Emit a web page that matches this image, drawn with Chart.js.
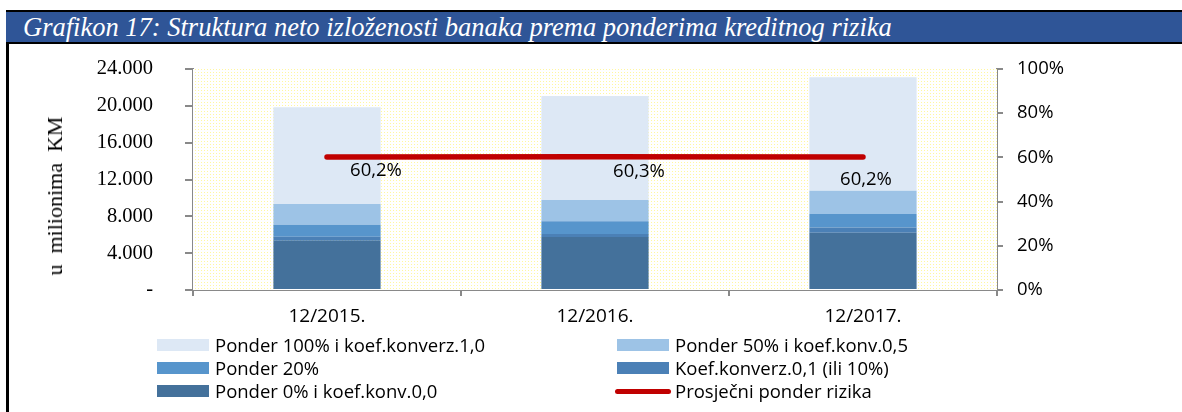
<!DOCTYPE html>
<html>
<head>
<meta charset="utf-8">
<script src="https://cdn.jsdelivr.net/npm/chart.js@4.4.1/dist/chart.umd.min.js"></script>
<style>
  html, body { margin: 0; padding: 0; background: #fff; }
  #wrap { position: relative; width: 1182px; height: 412px; overflow: hidden; }
  #chart { position: absolute; left: 0; top: 0; }
  #frameLeft { position: absolute; left: 6px; top: 10px; width: 3px; height: 402px; background: #000; }
  #titleBar {
    position: absolute; left: 6px; top: 10px; width: 1176px; height: 30px;
    background: #2f5597; border-top: 2px solid #000; border-bottom: 2px solid #000;
    color: #fff; font: italic 26.5px "Liberation Serif", "DejaVu Serif", serif;
    line-height: 30px; padding-left: 17px; box-sizing: content-box; white-space: nowrap;
  }
  #yTitle {
    position: absolute; left: 55px; top: 196px; white-space: pre;
    transform: translate(-50%, -50%) rotate(-90deg);
    font: 22px "Liberation Serif", serif; color: #000;
  }
  .leg { position: absolute; font: 18.5px "Open Sans", sans-serif; color: #000; white-space: nowrap; }
  .sw { position: absolute; width: 52px; height: 12px; }
  .swLine { position: absolute; width: 52px; height: 5px; border-radius: 3px; }
</style>
</head>
<body>
<div id="wrap">
  <canvas id="chart" width="1182" height="412"></canvas>
  <div id="frameLeft"></div>
  <div id="titleBar">Grafikon 17: Struktura neto izloženosti banaka prema ponderima kreditnog rizika</div>
  <div id="yTitle">u  milionima  KM</div>
  <div id="legend"></div>
</div>
<script>
// categories
const periods = ['12/2015.', '12/2016.', '12/2017.'];

// stacked exposure, millions KM (bottom to top)
const ponder0 = [5350, 5750, 6220];
const koef01 = [440, 330, 580];
const ponder20 = [1300, 1380, 1450];
const ponder50 = [2250, 2310, 2530];
const ponder100 = [10500, 11310, 12320];

// average risk weight, %
const avgWeight = [60.2, 60.3, 60.2];
const avgWeightText = ['60,2%', '60,3%', '60,2%'];

// where Excel put the line labels, relative to the point
const labelShift = [[49, 14], [44, 15], [3, 23]];

const gray = '#898989';
const sansFont = '"Open Sans", sans-serif';

// pale yellow dotted plot background
function dotPattern() {
    const c = document.createElement('canvas');
    c.width = 3; c.height = 3;
    const g = c.getContext('2d');
    g.fillStyle = '#ffffff';
    g.fillRect(0, 0, 3, 3);
    g.fillStyle = '#fff7a0';
    g.fillRect(0, 0, 1, 1);
    return g.createPattern(c, 'repeat');
}

const plotBg = {
    id: 'plotBg',
    beforeDatasetsDraw(chart) {
        const a = chart.chartArea, ctx = chart.ctx;
        ctx.save();
        ctx.fillStyle = dotPattern();
        ctx.fillRect(a.left, a.top, a.right - a.left, a.bottom - a.top);
        ctx.restore();
    }
};

const lineLabels = {
    id: 'lineLabels',
    afterDatasetsDraw(chart) {
        const meta = chart.getDatasetMeta(5);
        const ctx = chart.ctx;
        ctx.save();
        ctx.font = '18.5px ' + sansFont;
        ctx.fillStyle = '#000';
        ctx.textAlign = 'center';
        ctx.textBaseline = 'middle';
        meta.data.forEach((pt, i) => {
            ctx.fillText(avgWeightText[i], pt.x + labelShift[i][0], pt.y + labelShift[i][1]);
        });
        ctx.restore();
    }
};

const datasets = [
    { label: 'Ponder 0% i koef.konv.0,0', data: ponder0, backgroundColor: '#44719b' },
    { label: 'Koef.konverz.0,1 (ili 10%)', data: koef01, backgroundColor: '#4b80b6' },
    { label: 'Ponder 20%', data: ponder20, backgroundColor: '#5795cc' },
    { label: 'Ponder 50% i koef.konv.0,5', data: ponder50, backgroundColor: '#9dc3e6' },
    { label: 'Ponder 100% i koef.konverz.1,0', data: ponder100, backgroundColor: '#dde8f5' }
].map(d => Object.assign(d, {
    type: 'bar', yAxisID: 'y', stack: 's', order: 1,
    barPercentage: 0.4, categoryPercentage: 1, borderWidth: 0
}));

datasets.push({
    type: 'line', label: 'Prosječni ponder rizika', data: avgWeight, yAxisID: 'y1', order: 0,
    borderColor: '#c00000', borderWidth: 5.5, borderCapStyle: 'round',
    pointRadius: 0, fill: false, tension: 0
});

const chart = new Chart(document.getElementById('chart').getContext('2d'), {
    data: { labels: periods, datasets: datasets },
    options: {
        responsive: false,
        animation: false,
        devicePixelRatio: 1,
        layout: { padding: { left: 0, right: 0, top: 69, bottom: 82 } },
        plugins: { legend: { display: false }, tooltip: { enabled: false } },
        scales: {
            x: {
                stacked: true,
                grid: { display: true, drawOnChartArea: false, drawTicks: true, tickLength: 6, color: gray, lineWidth: 2, offset: true },
                border: { color: gray, width: 2 },
                ticks: { color: '#000', font: { family: sansFont, size: 19 }, padding: 9, maxRotation: 0 },
                afterFit(s) { s.height = 40; }
            },
            y: {
                stacked: true, position: 'left', min: 0, max: 24000,
                grid: { drawOnChartArea: false, drawTicks: true, tickLength: 8, color: gray, lineWidth: 2 },
                border: { color: gray, width: 2 },
                ticks: {
                    stepSize: 4000, color: '#000', padding: 32,
                    font: { family: '"Liberation Serif", serif', size: 20.5 },
                    callback: v => v === 0 ? '-' : v.toLocaleString('de-DE')
                },
                afterFit(s) { s.width = 193; }
            },
            y1: {
                position: 'right', min: 0, max: 100,
                grid: { drawOnChartArea: false, drawTicks: true, tickLength: 6, color: gray, lineWidth: 2 },
                border: { color: gray, width: 2 },
                ticks: { stepSize: 20, color: '#000', padding: 14, font: { family: sansFont, size: 18.5 }, callback: v => v + '%' },
                afterFit(s) { s.width = 185; }
            }
        }
    },
    plugins: [plotBg, lineLabels]
});

// legend, two columns like the original
const legendSlots = [
    { ds: 4, col: 0, row: 0 }, { ds: 3, col: 1, row: 0 },
    { ds: 2, col: 0, row: 1 }, { ds: 1, col: 1, row: 1 },
    { ds: 0, col: 0, row: 2 }, { ds: 5, col: 1, row: 2 }
];
const legendCols = [157, 617];
const legendRows = [345, 368, 391];
const legendEl = document.getElementById('legend');
legendSlots.forEach(s => {
    const d = chart.data.datasets[s.ds];
    const x = legendCols[s.col], y = legendRows[s.row];
    const sw = document.createElement('div');
    if (d.type === 'line') {
        sw.className = 'swLine';
        sw.style.background = d.borderColor;
        sw.style.left = (x - 2) + 'px';
        sw.style.top = (y - 2.5) + 'px';
        sw.style.width = '56px';
    } else {
        sw.className = 'sw';
        sw.style.background = d.backgroundColor;
        sw.style.left = x + 'px';
        sw.style.top = (y - 6) + 'px';
    }
    legendEl.appendChild(sw);
    const t = document.createElement('div');
    t.className = 'leg';
    t.textContent = d.label;
    t.style.left = (x + 58) + 'px';
    t.style.top = (y - 13) + 'px';
    legendEl.appendChild(t);
});
</script>
</body>
</html>
